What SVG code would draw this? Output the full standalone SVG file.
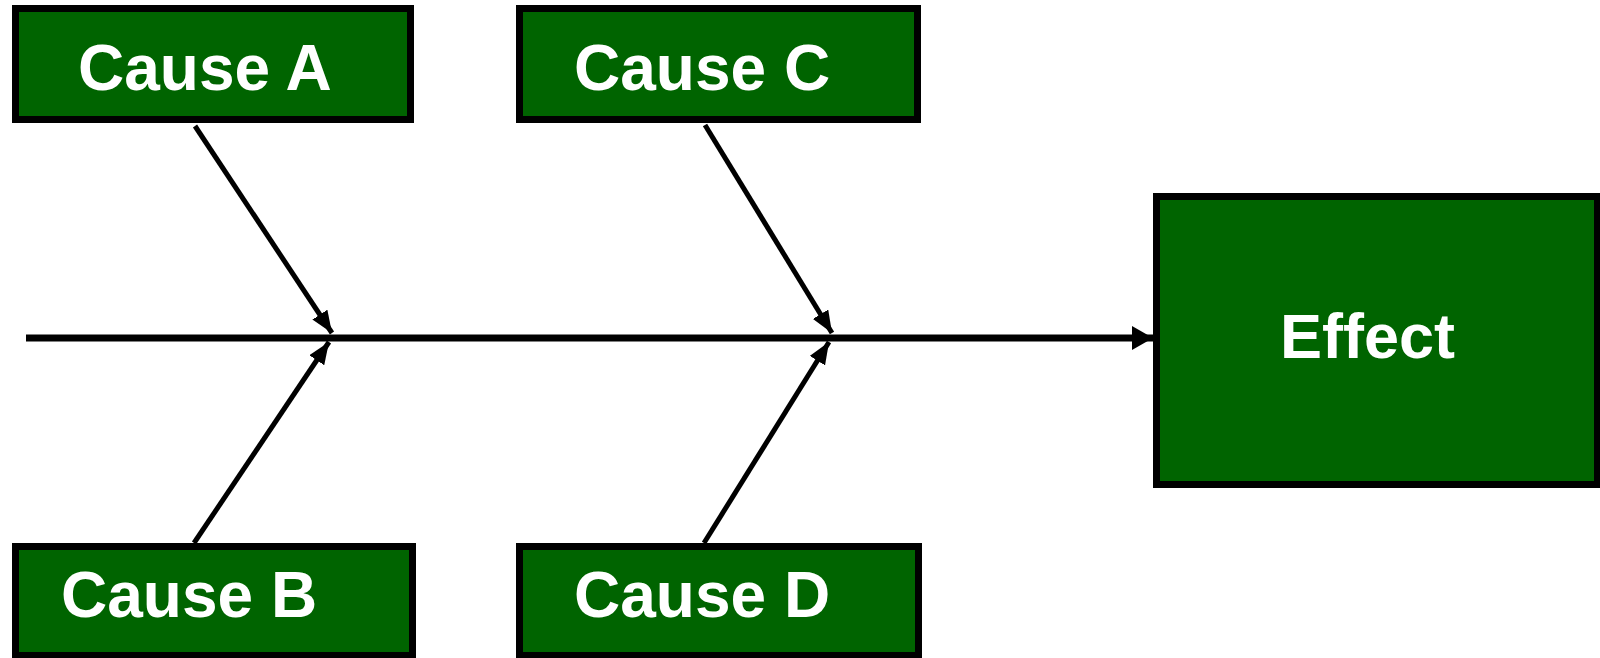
<svg xmlns="http://www.w3.org/2000/svg" width="1600" height="658" viewBox="0 0 1600 658">
  <defs>
    <style>
      .box { fill: #006400; stroke: #000; stroke-width: 7; }
      .label { font-family: "Liberation Sans", Arial, sans-serif; font-weight: bold; font-size: 64px; fill: #fff; }
      .bone { stroke: #000; stroke-width: 5; fill: none; }
      .spine { stroke: #000; stroke-width: 7; fill: none; }
    </style>
    <marker id="head" viewBox="0 0 22 18" refX="22" refY="9" markerWidth="22" markerHeight="18" markerUnits="userSpaceOnUse" orient="auto">
      <path d="M0,0 L22,9 L0,18 z" fill="#000"/>
    </marker>
    <marker id="headBig" viewBox="0 0 21 24" refX="21" refY="12" markerWidth="21" markerHeight="24" markerUnits="userSpaceOnUse" orient="auto">
      <path d="M0,0 L21,12 L0,24 z" fill="#000"/>
    </marker>
  </defs>
  <rect width="1600" height="658" fill="#fff"/>

  <!-- spine and cause bones -->
  <g id="connectors">
    <line class="spine" x1="26" y1="338" x2="1153" y2="338" marker-end="url(#headBig)"/>
    <line class="bone" x1="195" y1="126" x2="332" y2="333" marker-end="url(#head)"/>
    <line class="bone" x1="194" y1="543" x2="329" y2="342" marker-end="url(#head)"/>
    <line class="bone" x1="705" y1="125" x2="832" y2="333" marker-end="url(#head)"/>
    <line class="bone" x1="704" y1="543" x2="829" y2="342" marker-end="url(#head)"/>
  </g>

  <g id="cause-a">
    <rect class="box" x="15.5" y="8.5" width="395" height="111"/>
    <text class="label" x="78" y="90">Cause A</text>
  </g>
  <g id="cause-c">
    <rect class="box" x="519.5" y="8.5" width="398" height="111"/>
    <text class="label" x="574" y="90">Cause C</text>
  </g>
  <g id="cause-b">
    <rect class="box" x="15.5" y="546.5" width="397" height="109"/>
    <text class="label" x="61" y="617">Cause B</text>
  </g>
  <g id="cause-d">
    <rect class="box" x="519.5" y="546.5" width="399" height="109"/>
    <text class="label" x="574" y="617">Cause D</text>
  </g>
  <g id="effect">
    <rect class="box" x="1156.5" y="196.5" width="441" height="288"/>
    <text class="label" x="1280" y="358" style="font-size:63px">Effect</text>
  </g>
</svg>
